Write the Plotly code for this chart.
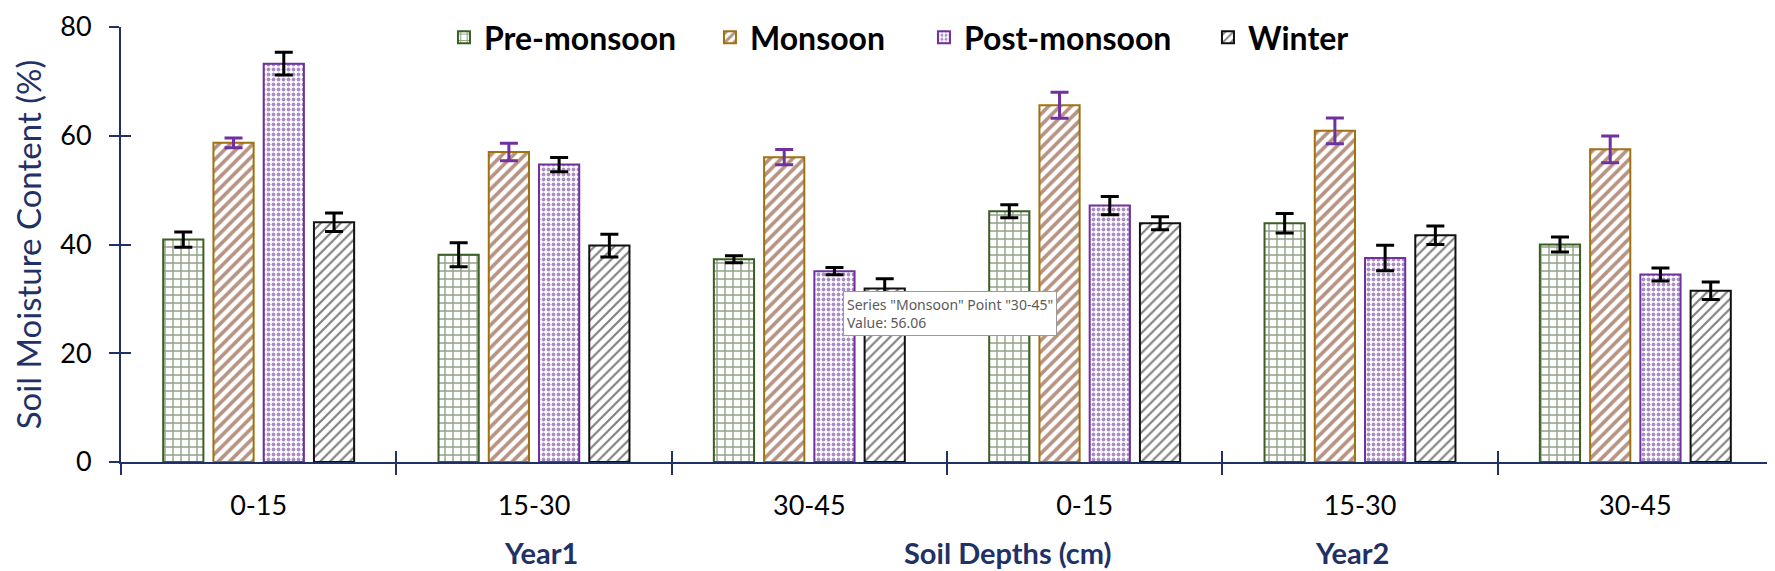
import plotly.graph_objects as go

# ---------------- data ----------------
depths = ["0-15", "15-30", "30-45", "0-15", "15-30", "30-45"]
years = ["Year1", "Year2"]
seasons = ["Pre-monsoon", "Monsoon", "Post-monsoon", "Winter"]

pre_monsoon = [40.9, 38.1, 37.3, 46.1, 43.9, 40.0]
pre_monsoon_err = [1.4, 2.2, 0.65, 1.2, 1.8, 1.4]

monsoon = [58.7, 57.0, 56.06, 65.6, 60.9, 57.5]
monsoon_err = [0.9, 1.6, 1.4, 2.4, 2.35, 2.45]

post_monsoon = [73.25, 54.7, 35.1, 47.15, 37.5, 34.5]
post_monsoon_err = [2.1, 1.3, 0.65, 1.7, 2.35, 1.2]

winter = [44.1, 39.8, 31.9, 43.9, 41.7, 31.5]
winter_err = [1.7, 2.1, 1.8, 1.2, 1.7, 1.6]

tooltip_series = "Monsoon"
tooltip_point = "30-45"
tooltip_value = 56.06

# ---------------- style ----------------
NAVY = "#1F3165"
FONT = "Lato"

styles = {
    "Pre-monsoon": dict(shape="+", fg="#1F4210", line="#3B5E22", size=8, sol=0.32, err="black", lw=221),
    "Monsoon": dict(shape="/", fg="#6E2807", line="#A0720F", size=8, sol=0.46, err="#7030A0", lw=169),
    "Post-monsoon": dict(shape=".", fg="#561C88", line="#7030A0", size=5, sol=0.45, err="black", lw=239),
    "Winter": dict(shape="/", fg="#000000", line="#111111", size=7, sol=0.3, err="black", lw=130),
}

series = {
    "Pre-monsoon": (pre_monsoon, pre_monsoon_err),
    "Monsoon": (monsoon, monsoon_err),
    "Post-monsoon": (post_monsoon, post_monsoon_err),
    "Winter": (winter, winter_err),
}

xpos = list(range(len(depths)))
bounds = [i - 0.5 for i in range(len(depths) + 1)]

fig = go.Figure()
for name in seasons:
    vals, errs = series[name]
    st = styles[name]
    fig.add_trace(go.Bar(
        name=name, x=xpos, y=vals, legendwidth=st["lw"],
        marker=dict(
            color="white",
            line=dict(color=st["line"], width=2),
            pattern=dict(shape=st["shape"], fgcolor=st["fg"], bgcolor="white",
                         size=st["size"], solidity=st["sol"]),
        ),
        error_y=dict(type="data", array=errs, visible=True,
                     color=st["err"], thickness=3, width=9),
    ))

# dummy trace for the overlay axes (inner half of the crossing ticks)
fig.add_trace(go.Scatter(x=[None], y=[None], xaxis="x2", yaxis="y2",
                         showlegend=False, hoverinfo="skip"))

fig.update_layout(
    width=1767, height=563,
    margin=dict(l=113, r=2, t=8, b=109),
    paper_bgcolor="white", plot_bgcolor="white",
    barmode="group", bargap=0.27, bargroupgap=0.2,
    font=dict(family=FONT, color="black"),
    showlegend=True,
    legend=dict(orientation="h", x=0.1955, xanchor="left", y=0.976, yanchor="middle",
                font=dict(family=FONT, size=32, color="black", weight="bold"),
                bgcolor="rgba(0,0,0,0)", itemwidth=30),
    xaxis=dict(range=[-0.5, len(depths) - 0.5], tickmode="array", tickvals=xpos,
               ticktext=depths, ticks="", showgrid=False, zeroline=False,
               showline=True, linecolor=NAVY, linewidth=2,
               tickfont=dict(family=FONT, size=27, color="black"),
               ticklabelstandoff=19, ticklabeloverflow="allow",
               minor=dict(tickmode="array", tickvals=bounds, ticks="outside",
                          ticklen=11, tickwidth=2, tickcolor=NAVY, showgrid=False)),
    yaxis=dict(range=[0, 80], tickmode="linear", tick0=0, dtick=20,
               ticks="outside", ticklen=10, tickwidth=2, tickcolor=NAVY,
               showgrid=False, zeroline=False, showline=True, linecolor=NAVY, linewidth=2,
               tickfont=dict(family=FONT, size=27, color="black"),
               ticklabelstandoff=12, ticklabeloverflow="allow",
               title=dict(text="Soil Moisture Content (%)",
                          font=dict(family=FONT, size=33, color=NAVY), standoff=24)),
    xaxis2=dict(overlaying="x", anchor="y2", range=[-0.5, len(depths) - 0.5],
                tickmode="array", tickvals=bounds, ticks="inside", ticklen=11,
                tickwidth=2, tickcolor=NAVY, showticklabels=False, showgrid=False,
                zeroline=False, showline=False),
    yaxis2=dict(overlaying="y", anchor="x2", range=[0, 80], tickmode="linear",
                tick0=0, dtick=20, ticks="inside", ticklen=10, tickwidth=2,
                tickcolor=NAVY, showticklabels=False, showgrid=False,
                zeroline=False, showline=False, side="left"),
)

# group (year) labels and axis title, as in the reference's multi-level axis
ann_font = dict(family=FONT, size=29, color=NAVY, weight="bold")
label_pos = {"Year1": 0.2543, "Soil Depths (cm)": 0.537, "Year2": 0.745}
for txt, px in label_pos.items():
    fig.add_annotation(x=px, y=-0.209, xref="paper", yref="paper", text=txt,
                       showarrow=False, xanchor="center", yanchor="middle", font=ann_font)

# tooltip box captured in the reference
fig.add_annotation(
    x=0.437, y=0.3935, xref="paper", yref="paper", xanchor="left", yanchor="top",
    text=f'Series "{tooltip_series}" Point "{tooltip_point}"<br>Value: {tooltip_value:.2f}',
    showarrow=False, align="left", bgcolor="white", bordercolor="#9A9A9A", borderwidth=1,
    borderpad=3, font=dict(family="Noto Sans", size=14, color="#5A5A5A"),
)

fig.write_html("out.html")
